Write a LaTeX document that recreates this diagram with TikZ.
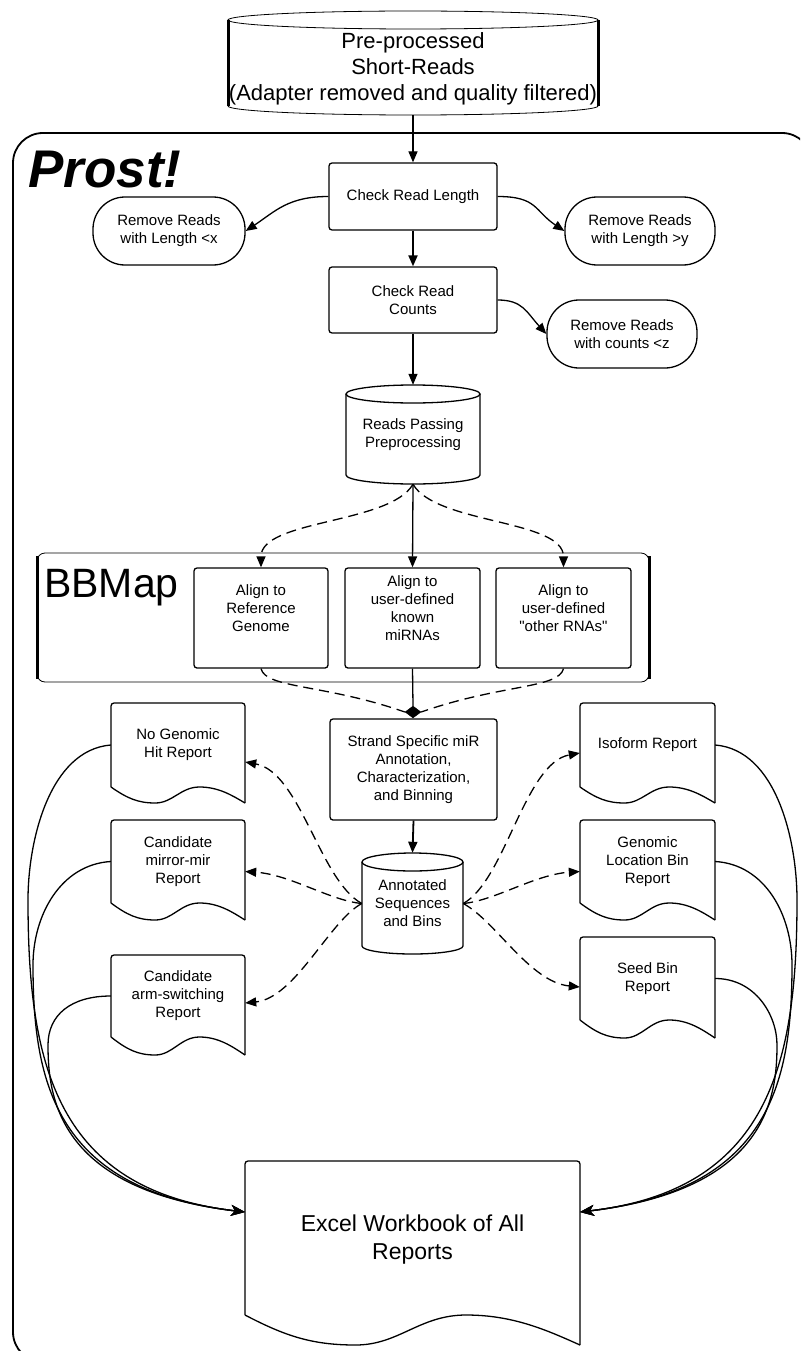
\documentclass[tikz,border=0pt]{standalone}
\usepackage{fontspec}
\setmainfont{Liberation Sans}[Ligatures=TeXOff]
\usetikzlibrary{arrows.meta,shapes.geometric,calc}
\tikzset{
 lw/.style={line width=1.3pt},
 box/.style={draw, line width=1.3pt, rounded corners=3pt, align=center, inner sep=2pt, font=\fontsize{15}{18}\selectfont},
 stad/.style={draw, line width=1.3pt, rounded corners=32pt, align=center, inner sep=2pt, font=\fontsize{15}{18}\selectfont},
 txt/.style={align=center, inner sep=0pt, font=\fontsize{15}{18}\selectfont},
 conn/.style={line width=1.3pt, -{Triangle[length=11pt,width=9pt]}},
 dconn/.style={line width=1.3pt, dash pattern=on 10pt off 6pt, -{Triangle[length=11pt,width=9pt]}},
 dline/.style={line width=1.3pt, dash pattern=on 10pt off 6pt},
 xconn/.style={line width=1.3pt, -{Stealth[length=14pt,width=11pt,inset=4pt]}},
}
\newcommand\docshape[5]{%
 \pgfmathsetmacro\docw{#3-#1}%
 \draw[lw, rounded corners=3pt] (#1,#4) -- (#1,#2) -- (#3,#2) -- (#3,#4+#5);
 \draw[lw] (#1,#4) .. controls (#1+0.12*\docw,#4+0.7*#5) and (#1+0.2*\docw,#4+#5) .. (#1+0.33*\docw,#4+#5)
   .. controls (#1+0.46*\docw,#4+#5) and (#1+0.52*\docw,#4) .. (#1+0.66*\docw,#4)
   .. controls (#1+0.8*\docw,#4) and (#1+0.9*\docw,#4+0.5*#5) .. (#3,#4+#5);
}
\begin{document}
\begin{tikzpicture}[x=1pt,y=-1pt]
\useasboundingbox (0,0) rectangle (800,1351);
\clip (0,0) rectangle (800,1351);
\fill[white] (0,0) rectangle (800,1351);

% Prost frame
\draw[line width=1.8pt, rounded corners=30pt] (13,133) rectangle (812,1362);
\node[anchor=base west, inner sep=0pt, font=\fontsize{53}{60}\selectfont\bfseries\itshape] (prost) at (28,188) {Prost!};

% BBMap container
\draw[line width=0.8pt, rounded corners=8pt] (37,553) rectangle (649,682);
\draw[line width=3pt] (37,556) -- (37,679);
\draw[line width=3pt] (649,556) -- (649,679);
\node[anchor=base west, inner sep=0pt, font=\fontsize{41}{48}\selectfont] (bbmap) at (44,597) {BBMap};

% top cylinder
\draw[line width=0.8pt] (413,20) ellipse [x radius=185pt, y radius=9pt];
\draw[line width=0.8pt] (228,106) .. controls (228,111) and (311,115) .. (413,115) .. controls (515,115) and (598,111) .. (598,106);
\draw[line width=3pt] (228,20) -- (228,106);
\draw[line width=3pt] (598,20) -- (598,106);
\node[txt, font=\fontsize{22}{26}\selectfont, minimum width=370pt, minimum height=92pt] (src) at (413,69) {Pre-processed\\Short-Reads\\(Adapter removed and quality filtered)};

% checks
\node[box, minimum width=168pt, minimum height=67pt] (crl) at (413,196.5) {Check Read Length};
\node[stad, minimum width=152pt, minimum height=68pt] (rm1) at (169,231) {Remove Reads\\with Length <x};
\node[stad, minimum width=150pt, minimum height=68pt] (rm2) at (640,231) {Remove Reads\\with Length >y};
\node[box, minimum width=168pt, minimum height=66pt] (crc) at (413,300) {Check Read\\Counts};
\node[stad, minimum width=150pt, minimum height=68pt] (rm3) at (622,334) {Remove Reads\\with counts <z};

% reads passing cylinder
\draw[lw] (346,394) -- (346,475) .. controls (346,480) and (376,484) .. (413,484) .. controls (450,484) and (480,480) .. (480,475) -- (480,394);
\draw[lw] (413,394) ellipse [x radius=67pt, y radius=9pt];
\node[txt, minimum width=134pt, minimum height=99pt] (rp) at (413,434.5) {Reads Passing\\Preprocessing};

% align boxes
\node[box, minimum width=134pt, minimum height=100pt] (al1) at (261,618) {};
\node[txt] (al1t) at (261,608) {Align to\\Reference\\Genome};
\node[box, minimum width=135pt, minimum height=100pt] (al2) at (412.5,618) {};
\node[txt] (al2t) at (412.5,608.5) {Align to\\user-defined\\known\\miRNAs};
\node[box, minimum width=135pt, minimum height=100pt] (al3) at (563.5,618) {};
\node[txt] (al3t) at (563.5,608) {Align to\\user-defined\\"other RNAs"};

% strand box
\node[box, minimum width=167pt, minimum height=101pt] (ss) at (413.5,769.5) {Strand Specific miR\\Annotation,\\Characterization,\\and Binning};

% annotated cylinder
\draw[lw] (362,862) -- (362,946) .. controls (362,950.4) and (384.6,954) .. (412.5,954) .. controls (440.4,954) and (463,950.4) .. (463,946) -- (463,862);
\draw[lw] (412.5,862) ellipse [x radius=50.5pt, y radius=9pt];
\node[txt, minimum width=101pt, minimum height=101pt] (ann) at (412.5,903.5) {Annotated\\Sequences\\and Bins};

% reports
\docshape{111}{703}{245}{787}{16}
\node[txt, minimum width=134pt, minimum height=84pt] (ng) at (178,745) {No Genomic\\Hit Report};
\docshape{111}{820}{245}{903}{17}
\node[txt, minimum width=134pt, minimum height=83pt] (mm) at (178,861.5) {Candidate\\mirror-mir\\Report};
\docshape{111}{955}{245}{1037}{18}
\node[txt, minimum width=134pt, minimum height=82pt] (arm) at (178,996) {Candidate\\arm-switching\\Report};
\docshape{580}{703}{715}{787}{16}
\node[txt, minimum width=135pt, minimum height=84pt] (iso) at (647.5,745) {Isoform Report};
\docshape{580}{820}{715}{903}{17}
\node[txt, minimum width=135pt, minimum height=83pt] (gl) at (647.5,861.5) {Genomic\\Location Bin\\Report};
\docshape{580}{937}{715}{1020}{18}
\node[txt, minimum width=135pt, minimum height=83pt] (sb) at (647.5,978.5) {Seed Bin\\Report};
\docshape{245}{1161}{580}{1315}{30}
\node[txt, font=\fontsize{23}{28}\selectfont, minimum width=335pt, minimum height=154pt] (ex) at (412.5,1240) {Excel Workbook of All\\Reports};

% connectors top part
\draw[conn] (src.south) -- (crl.north);
\draw[conn] (crl.west) .. controls +(-40,0) and +(30,-20) .. (rm1.east);
\draw[conn] (crl.east) .. controls +(40,0) and +(-30,-20) .. (rm2.west);
\draw[conn, line width=2pt] (crl.south) -- (crc.north);
\draw[conn] (crc.east) .. controls +(25,0) and +(-20,-22) .. (rm3.west);
\draw[conn] (crc.south) -- (rp.north);
\draw[conn] (rp.south) -- (al2.north);
\draw[dconn] (rp.south) .. controls +(-23,40) and +(0,-48) .. (al1.north);
\draw[dconn] (rp.south) .. controls +(23,40) and +(0,-48) .. (al3.north);

% merge diamond
\node[diamond, fill=black, draw, inner sep=0pt, minimum width=16pt, minimum height=12pt] (dm) at (413,712) {};
\draw[dline] (al1.south) .. controls +(5,20) and +(-80,-28) .. (dm.west);
\draw[dline] (al3.south) .. controls +(-5,20) and +(80,-28) .. (dm.east);
\draw[lw] (al2.south) -- (dm.north);
\draw[conn, line width=1.8pt] (ss.south) -- (ann.north);

% dashed to reports
\draw[dconn] (ann.west) .. controls +(-42,-23) and +(55,10) .. ($(ng.east)+(0,17)$);
\draw[dconn] (ann.west) .. controls +(-32,-3) and +(45,3) .. ($(mm.east)+(0,10)$);
\draw[dconn] (ann.west) .. controls +(-32,17) and +(50,-5) .. ($(arm.east)+(0,7)$);
\draw[dconn] (ann.east) .. controls +(42,-23) and +(-55,10) .. ($(iso.west)+(0,8)$);
\draw[dconn] (ann.east) .. controls +(32,-3) and +(-45,3) .. ($(gl.west)+(0,10)$);
\draw[dconn] (ann.east) .. controls +(32,17) and +(-50,-5) .. ($(sb.west)+(0,8.5)$);

% to excel
\coordinate (exl) at (245,1212);
\coordinate (exr) at (580,1212);
\coordinate (wl1) at (28,900);
\coordinate (wl2) at (33,965);
\coordinate (wl3) at (48,1045);
\coordinate (wr1) at (797,900);
\coordinate (wr2) at (792,965);
\coordinate (wr3) at (777,1045);
\draw[xconn] (ng.west) .. controls +(-61,5) and +(0,-60) .. (wl1) .. controls +(0,166) and +(-188,-22) .. (exl);
\draw[xconn] (mm.west) .. controls +(-50,3) and +(0,-50) .. (wl2) .. controls +(0,120) and +(-188,-22) .. (exl);
\draw[xconn] (arm.west) .. controls +(-40,0) and +(0,-30) .. (wl3) .. controls +(0,55) and +(-185,-22) .. (exl);
\draw[xconn] (iso.east) .. controls +(61,5) and +(0,-60) .. (wr1) .. controls +(0,166) and +(188,-22) .. (exr);
\draw[xconn] (gl.east) .. controls +(50,3) and +(0,-50) .. (wr2) .. controls +(0,120) and +(188,-22) .. (exr);
\draw[xconn] (sb.east) .. controls +(40,0) and +(0,-30) .. (wr3) .. controls +(0,55) and +(185,-22) .. (exr);
\end{tikzpicture}
\end{document}
